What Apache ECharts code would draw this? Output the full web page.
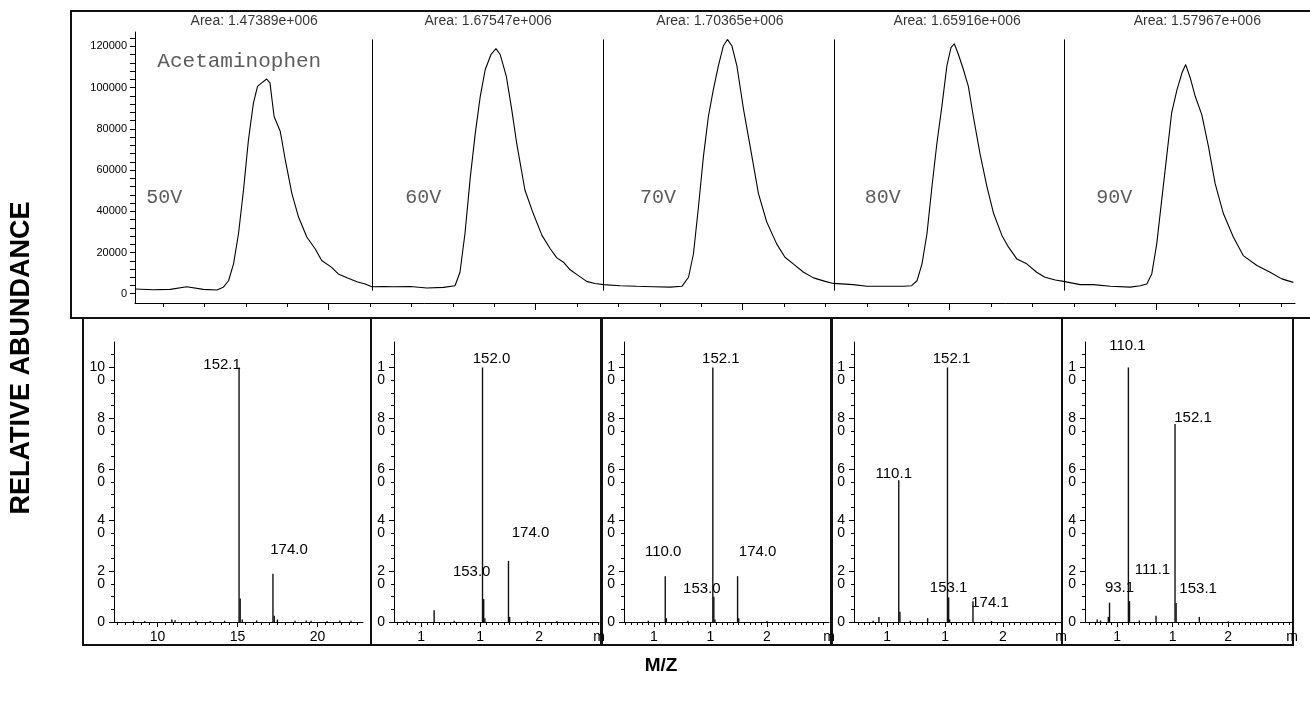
<!DOCTYPE html>
<html>
<head>
<meta charset="utf-8">
<script src="https://cdn.jsdelivr.net/npm/echarts@6/dist/echarts.min.js"></script>
<style>
  html, body { margin: 0; background: #fff; }
  #chart { width: 1310px; height: 703px; }
</style>
</head>
<body>
<div id="chart"></div>
<script>
// ---- chromatogram (time in tick units, intensity in counts) ----
const chromT = [0.32, 0.77, 1.17, 1.57, 1.97, 2.30, 2.45, 2.58, 2.70, 2.82, 2.94, 3.06, 3.18, 3.28, 3.38, 3.50, 3.58, 3.68, 3.83, 3.95,
  4.11, 4.27, 4.47, 4.67, 4.83, 5.07, 5.23, 5.44, 5.68, 5.88, 6.04, 6.31, 6.56, 6.97, 7.37, 7.77, 8.05, 8.17, 8.29, 8.42,
  8.54, 8.66, 8.78, 8.92, 9.04, 9.14, 9.29, 9.42, 9.54, 9.74, 9.94, 10.15, 10.35, 10.51, 10.67, 10.83, 11.03, 11.23, 11.43, 11.64,
  12.04, 12.44, 12.84, 13.25, 13.53, 13.69, 13.81, 13.93, 14.05, 14.17, 14.29, 14.41, 14.53, 14.63, 14.74, 14.86, 15.02, 15.18, 15.38, 15.58,
  15.82, 16.02, 16.22, 16.47, 16.71, 16.99, 17.19, 17.67, 18.00, 18.48, 18.88, 19.08, 19.21, 19.33, 19.45, 19.57, 19.69, 19.81, 19.93, 20.03,
  20.11, 20.21, 20.33, 20.45, 20.57, 20.73, 20.90, 21.06, 21.26, 21.42, 21.62, 21.86, 22.10, 22.30, 22.55, 22.75, 23.15, 23.47, 23.88, 24.36,
  24.60, 24.76, 24.88, 25.00, 25.12, 25.24, 25.36, 25.49, 25.61, 25.70, 25.81, 25.93, 26.09, 26.25, 26.41, 26.61, 26.85, 27.09, 27.42, 27.74,
  28.02, 28.30];
const chromV = [2300, 1950, 2100, 3400, 2100, 1800, 3100, 6300, 14500, 29100, 50200, 74600, 92500, 100600, 102300, 104200, 102300, 86000, 78700, 64900,
  48600, 37200, 27500, 21800, 16100, 12800, 9600, 7700, 5850, 4700, 3400, 3500, 3400, 3500, 2800, 3100, 3900, 10400, 29100, 56700,
  77900, 95800, 108800, 116100, 118900, 116100, 105500, 89300, 73000, 50200, 38900, 28300, 21800, 17400, 15300, 11600, 8800, 6000, 5000, 4400,
  3900, 3600, 3400, 3200, 3600, 8000, 19400, 42100, 66500, 86000, 99000, 110400, 120200, 123400, 120200, 110400, 89300, 71400, 48600, 34800,
  24200, 17700, 14500, 10400, 7700, 6000, 5000, 4400, 3600, 3600, 3600, 3900, 6300, 14500, 29100, 51900, 73000, 90900, 110400, 119400,
  121300, 116100, 108800, 100600, 86000, 68100, 51900, 38900, 28300, 22600, 16900, 14500, 10400, 8000, 6700, 6000, 4400, 4400, 3600, 3200,
  3900, 4700, 9600, 24200, 45400, 66500, 87700, 99000, 107200, 111200, 104700, 95800, 86800, 71400, 53500, 38900, 27500, 18500, 13700, 10400,
  7200, 5500];
const cutT = [6.05, 11.63, 17.21, 22.76];
const cutRange = [1500, 123400];
const areaText = ['Area: 1.47389e+006', 'Area: 1.67547e+006', 'Area: 1.70365e+006', 'Area: 1.65916e+006', 'Area: 1.57967e+006'];
const areaT = [3.20, 8.85, 14.45, 20.18, 25.98];
const voltText = ['50V', '60V', '70V', '80V', '90V'];
const voltT = [0.59, 6.85, 12.52, 17.95, 23.54];

// ---- mass spectra (x, relative abundance, peak tag) ----
const spec1X = [8.5, 9.2, 10.9, 11.1, 12.4, 13.3, 14.2, 15.1, 15.17, 15.3, 16.2, 17.22, 17.3, 17.5, 18.6, 19.3, 19.6, 20.6, 21.4, 22.1];
const spec1Y = [0.5, 0.4, 1.0, 0.7, 0.5, 0.4, 0.5, 100, 9.2, 1, 0.6, 19, 2.5, 1, 0.5, 0.6, 0.5, 0.4, 0.6, 0.5];
const spec1Tag = ['', '', '', '', '', '', '', '152.1', '', '', '', '174.0', '', '', '', '', '', '', '', ''];
const spec2X = [88, 111, 128, 152.0, 153.0, 154, 174.0, 175, 190, 215];
const spec2Y = [0.5, 4.6, 0.5, 100, 9, 1.5, 24, 2, 0.4, 0.4];
const spec2Tag = ['', '', '', '152.0', '153.0', '', '174.0', '', '', ''];
const spec3X = [95, 110.0, 111, 130, 152.1, 153.0, 154, 174.0, 175, 200];
const spec3Y = [0.5, 18, 1.5, 0.5, 100, 9.9, 1, 18, 1.5, 0.4];
const spec3Tag = ['', '110.0', '', '', '152.1', '153.0', '', '174.0', '', ''];
const spec4X = [88, 93, 110.1, 111.1, 120, 135, 152.1, 153.1, 154, 174.1, 190];
const spec4Y = [0.5, 2, 55.7, 4, 0.5, 1.5, 100, 9.7, 1, 8.2, 0.4];
const spec4Tag = ['', '', '110.1', '', '', '', '152.1', '153.1', '', '174.1', ''];
const spec5X = [82, 85, 92, 93.1, 110.1, 111.1, 120, 135, 152.1, 153.1, 174, 200];
const spec5Y = [1, 0.6, 2, 7.6, 100, 8.2, 0.6, 2.5, 77.8, 7.5, 2, 0.3];
const spec5Tag = ['', '', '', '93.1', '110.1', '111.1', '', '', '152.1', '153.1', '', ''];
const specLabelTicks = [[10, 15, 20], [100, 150, 200], [100, 150, 200], [100, 150, 200], [100, 150, 200]];
const abundTicks = [0, 20, 40, 60, 80, 100];

// ---- layout ----
const specX = [spec1X, spec2X, spec3X, spec4X, spec5X];
const specY = [spec1Y, spec2Y, spec3Y, spec4Y, spec5Y];
const specTag = [spec1Tag, spec2Tag, spec3Tag, spec4Tag, spec5Tag];
// label offsets per tagged peak
const tagOffset = [
  {7: [-17, 10], 11: [16, -11]},
  {3: [9, 4], 4: [-12, -15], 6: [22, -16]},
  {1: [-2, -12], 4: [8, 4], 5: [-12, 5], 7: [20, -12]},
  {2: [-5, 6], 6: [4, 4], 7: [0, 3], 9: [17, 14]},
  {3: [10, -2], 4: [-1, -9], 5: [23, -19], 8: [18, 6], 9: [22, -2]}
];
const specGrid = [[114, 249], [394, 205], [624, 205], [854, 207], [1085, 207]];
const specRange = [[7.28, 22.85], [77, 250.7], [73.5, 254.9], [71.5, 250], [71, 257.5]];
const specMinorStep = [0.5, 5, 5, 5, 5];

const FONT = 'Arial, "Liberation Sans", sans-serif';
const MONO = '"Courier New", "Liberation Mono", monospace';

function steps(a, b, s) {
  const out = [];
  for (let v = a; v <= b + 1e-9; v += s) out.push(Math.round(v * 1000) / 1000);
  return out;
}

const grid = [], xAxis = [], yAxis = [], series = [];
const black = {color: '#000', width: 1};

// top chromatogram panel
grid.push({left: 135, top: 32, width: 1160, height: 271});
xAxis.push({
  gridIndex: 0, type: 'value', position: 'bottom', min: 0.32, max: 28.34,
  axisLine: {onZero: false, lineStyle: black},
  axisTick: {customValues: steps(1, 28, 1), length: 4, lineStyle: black},
  axisLabel: {show: false}, splitLine: {show: false}
});
xAxis.push({
  gridIndex: 0, type: 'value', position: 'bottom', min: 0.32, max: 28.34,
  axisLine: {show: false, onZero: false},
  axisTick: {customValues: [5, 10, 15, 20, 25], length: 7, lineStyle: black},
  axisLabel: {show: false}, splitLine: {show: false}
});
yAxis.push({
  gridIndex: 0, type: 'value', position: 'left', min: -4500, max: 127000,
  axisLine: {show: true, onZero: false, lineStyle: black},
  axisTick: {show: true, customValues: steps(0, 124000, 4000), length: 5, lineStyle: black},
  axisLabel: {customValues: steps(0, 120000, 20000), fontSize: 11, color: '#000', fontFamily: FONT, margin: 8,
    formatter: v => String(v)},
  splitLine: {show: false}
});

series.push({
  type: 'line', xAxisIndex: 0, yAxisIndex: 0,
  data: chromT.map((t, i) => [t, chromV[i]]),
  symbol: 'none', lineStyle: {color: '#000', width: 1.1},
  markLine: {
    silent: true, symbol: 'none', label: {show: false},
    lineStyle: {color: '#000', width: 1, type: 'solid'},
    data: cutT.map(t => [{coord: [t, cutRange[0]]}, {coord: [t, cutRange[1]]}])
  }
});
series.push({
  type: 'scatter', xAxisIndex: 0, yAxisIndex: 0, symbolSize: 0, clip: false, silent: true,
  data: areaT.map((t, i) => ({value: [t, 132200], label: {formatter: areaText[i]}})),
  label: {show: true, position: 'inside', fontSize: 14, color: '#000', fontFamily: FONT}
});
series.push({
  type: 'scatter', xAxisIndex: 0, yAxisIndex: 0, symbolSize: 0, clip: false, silent: true,
  data: voltT.map((t, i) => ({value: [t, 46800], label: {formatter: voltText[i]}})).concat([
    {value: [0.86, 112700], label: {formatter: 'Acetaminophen', fontSize: 21}}
  ]),
  label: {show: true, position: 'right', distance: 0, fontSize: 20, color: '#333', fontFamily: MONO}
});

// spectrum panels
for (let p = 0; p < 5; p++) {
  const gi = p + 1;
  const [mn, mx] = specRange[p];
  grid.push({left: specGrid[p][0], top: 342, width: specGrid[p][1], height: 280});
  const majors = specLabelTicks[p];
  const labelVals = p === 0 ? majors : majors.concat([mx]);
  xAxis.push({
    gridIndex: gi, type: 'value', position: 'bottom', min: mn, max: mx,
    axisLine: {onZero: false, lineStyle: black},
    axisTick: {customValues: steps(Math.ceil(mn / specMinorStep[p]) * specMinorStep[p], mx, specMinorStep[p]), length: 3, lineStyle: black},
    axisLabel: {
      customValues: labelVals, fontSize: 14, color: '#000', fontFamily: FONT, margin: 8,
      formatter: v => (p > 0 && Math.abs(v - mx) < 0.01) ? 'm' : (p === 0 ? String(v) : String(v).charAt(0))
    },
    splitLine: {show: false}
  });
  xAxis.push({
    gridIndex: gi, type: 'value', position: 'bottom', min: mn, max: mx,
    axisLine: {show: false, onZero: false},
    axisTick: {customValues: majors, length: 5, lineStyle: black},
    axisLabel: {show: false}, splitLine: {show: false}
  });
  yAxis.push({
    gridIndex: gi, type: 'value', position: 'left', min: 0, max: 110,
    axisLine: {show: true, onZero: false, lineStyle: black},
    axisTick: {show: true, customValues: steps(0, 105, 5), length: 3, lineStyle: black},
    axisLabel: {
      customValues: abundTicks, fontSize: 14, lineHeight: 13, color: '#000', fontFamily: FONT, margin: 9,
      formatter: v => v === 0 ? '0' : '\n' + (p === 0 && v === 100 ? '10' : String(v).charAt(0)) + '\n0'
    },
    splitLine: {show: false}
  });
  yAxis.push({
    gridIndex: gi, type: 'value', position: 'left', min: 0, max: 110,
    axisLine: {show: false, onZero: false},
    axisTick: {show: true, customValues: abundTicks, length: 5, lineStyle: black},
    axisLabel: {show: false}, splitLine: {show: false}
  });
  const xs = specX[p], ys = specY[p], tags = specTag[p], offs = tagOffset[p];
  series.push({
    type: 'bar', xAxisIndex: gi * 2, yAxisIndex: gi * 2, barWidth: 1.4,
    itemStyle: {color: '#111'}, silent: true,
    data: xs.map((x, i) => {
      const item = {value: [x, ys[i]]};
      if (tags[i]) {
        item.label = {show: true, formatter: tags[i], offset: offs[i]};
      }
      return item;
    }),
    label: {show: false, position: 'top', distance: 5, fontSize: 15, color: '#000', fontFamily: FONT}
  });
}

// frames
const frame = {fill: 'none', stroke: '#111', lineWidth: 2};
const graphic = [
  {type: 'rect', shape: {x: 71, y: 11, width: 1250, height: 307}, style: frame, silent: true},
  {type: 'line', shape: {x1: 371, y1: 645, x2: 391, y2: 645}, style: {stroke: '#111', lineWidth: 2}, silent: true},
  {type: 'text', x: 22, y: 358, rotation: Math.PI / 2,
    style: {text: 'RELATIVE ABUNDANCE', fontSize: 27, fontWeight: 'bold', fontFamily: FONT, fill: '#000', align: 'center', verticalAlign: 'middle'}},
  {type: 'text', x: 661, y: 666,
    style: {text: 'M/Z', fontSize: 19, fontWeight: 'bold', fontFamily: FONT, fill: '#000', align: 'center', verticalAlign: 'middle'}}
];
const boxX = [83, 371, 602, 832, 1062];
const boxW = [288, 230, 229, 230, 231];
boxX.forEach((x, i) => {
  graphic.push({type: 'rect', shape: {x: x, y: 318, width: boxW[i], height: 327}, style: frame, silent: true});
});

const chart = echarts.init(document.getElementById('chart'));
chart.setOption({
  animation: false,
  backgroundColor: '#fff',
  grid: grid,
  xAxis: xAxis,
  yAxis: yAxis,
  series: series,
  graphic: graphic
});
</script>
</body>
</html>
